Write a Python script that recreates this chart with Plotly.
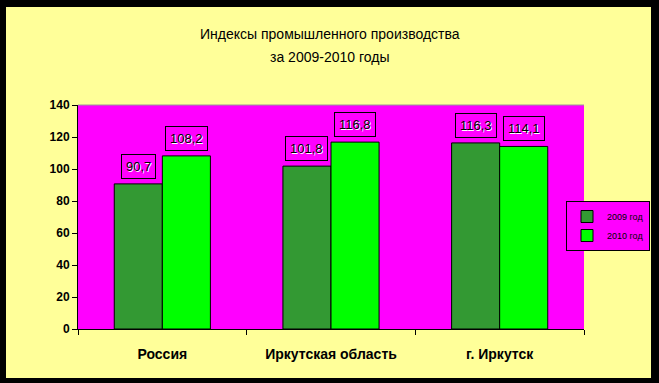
import plotly.graph_objects as go

categories = ["Россия", "Иркутская область", "г. Иркутск"]
series_names = ["2009 год", "2010 год"]
values_2009 = [90.7, 101.8, 116.3]
values_2010 = [108.2, 116.8, 114.1]
label_2009 = ["90,7", "101,8", "116,3"]
label_2010 = ["108,2", "116,8", "114,1"]
y_ticks = [0, 20, 40, 60, 80, 100, 120, 140]
title_lines = ["Индексы промышленного производства", "за 2009-2010 годы"]

W, H = 659, 383
L, R, T, B = 78, 75, 105, 54
PW, PH = W - L - R, H - T - B

def px_x(px):
    return (px - L) / PW

def px_y(py):
    return (H - B - py) / PH

FONT = "Liberation Sans, Arial, sans-serif"
colors = ["#339933", "#00FF00"]

fig = go.Figure()
for name, vals, col in zip(series_names, [values_2009, values_2010], colors):
    fig.add_trace(go.Bar(
        x=categories, y=vals, name=name,
        marker=dict(color=col, line=dict(color="black", width=1)),
    ))

annotations = []
bar_w = PW / 3 * (1 - 0.43) / 2
for labels, vals, sign in [(label_2009, values_2009, -1), (label_2010, values_2010, 1)]:
    for c, v, lab in zip(categories, vals, labels):
        annotations.append(dict(
            x=c, y=v, xref="x", yref="y", text=lab, showarrow=False,
            xshift=sign * bar_w / 2, yshift=5, yanchor="bottom",
            bordercolor="black", borderwidth=1, borderpad=4, bgcolor="#FF00FF",
            font=dict(family=FONT, size=13, color="black", shadow="1px 1px 0px white"),
        ))

for line, py in zip(title_lines, [34, 57]):
    annotations.append(dict(
        x=px_x(W / 2), y=px_y(py), xref="paper", yref="paper", text=line,
        showarrow=False, xanchor="center", yanchor="middle",
        font=dict(family=FONT, size=14, color="black"),
    ))

shapes = []
# black frame around the page
for (x0, y0, x1, y1) in [(0, 0, W, 7), (0, 378, W, H), (0, 0, 6, H), (651, 0, W, H)]:
    shapes.append(dict(type="rect", xref="paper", yref="paper",
                       x0=px_x(x0), x1=px_x(x1), y0=px_y(y0), y1=px_y(y1),
                       fillcolor="black", line=dict(width=0), layer="above"))
# thin gray top border of the plot area
shapes.append(dict(type="line", xref="paper", yref="paper", x0=0, x1=1, y0=1, y1=1,
                   line=dict(color="#999999", width=1)))

fig.update_layout(
    width=W, height=H,
    margin=dict(l=L, r=R, t=T, b=B, autoexpand=False),
    paper_bgcolor="#FFFF99",
    plot_bgcolor="#FF00FF",
    barmode="group", bargap=0.43, bargroupgap=0,
    showlegend=True,
    legend=dict(
        x=px_x(650), y=px_y(226), xanchor="right", yanchor="middle",
        bgcolor="#FF00FF", bordercolor="black", borderwidth=1,
        font=dict(family=FONT, size=9, color="black"),
        itemwidth=30, tracegroupgap=0,
    ),
    annotations=annotations,
    shapes=shapes,
    xaxis=dict(
        showline=True, linecolor="black", linewidth=1,
        ticks="outside", ticklen=5, tickcolor="black", tickson="boundaries",
        ticklabelstandoff=12,
        tickfont=dict(family=FONT, size=14, color="black", weight="bold"),
        showgrid=False,
    ),
    yaxis=dict(
        range=[0, 140], tickvals=y_ticks,
        showline=True, linecolor="black", linewidth=1,
        ticks="outside", ticklen=5, tickcolor="black",
        tickfont=dict(family=FONT, size=12, color="black", weight="bold"),
        showgrid=False, zeroline=False,
    ),
)

fig.write_html("out.html", post_script="document.body.style.margin='0';",
               config={"displayModeBar": False})
